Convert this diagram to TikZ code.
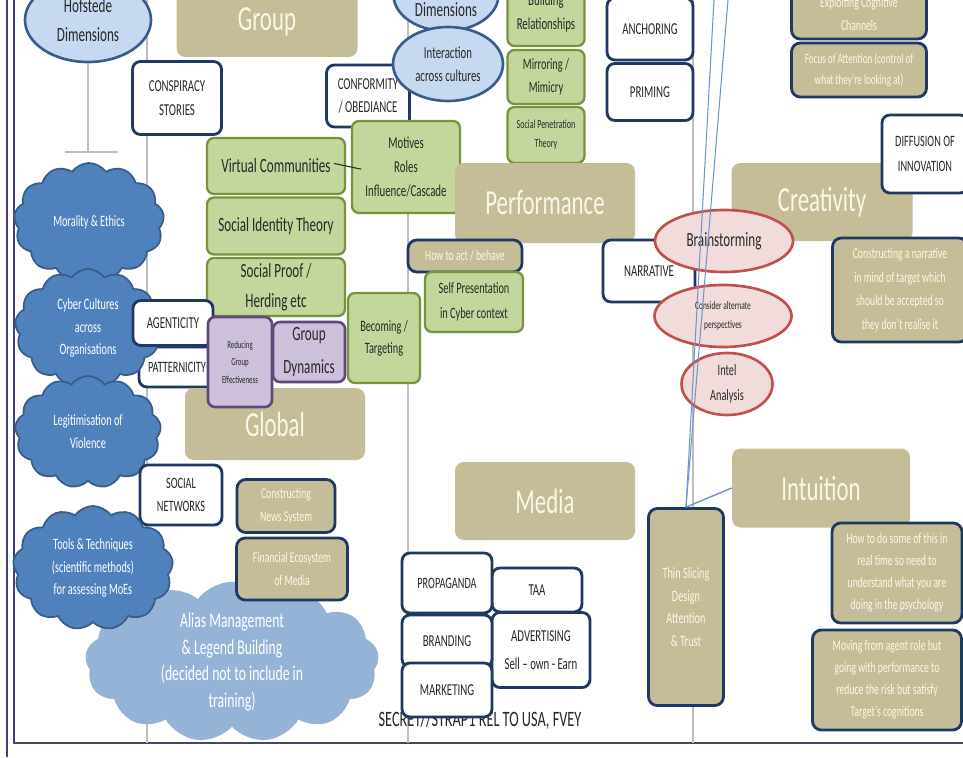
\documentclass[tikz,border=0pt]{standalone}
\usepackage{fontspec}
\setmainfont{Carlito}[FakeStretch=0.65]
\usetikzlibrary{shapes.geometric,shapes.symbols}

\definecolor{tan}{RGB}{196,189,151}
\definecolor{cream}{RGB}{250,247,232}
\definecolor{navy}{RGB}{31,56,100}
\definecolor{ink}{RGB}{40,40,40}
\definecolor{leaf}{RGB}{195,214,155}
\definecolor{leafline}{RGB}{119,147,60}
\definecolor{lilac}{RGB}{204,192,218}
\definecolor{lilacline}{RGB}{95,73,122}
\definecolor{sky}{RGB}{198,217,241}
\definecolor{skyline}{RGB}{56,93,138}
\definecolor{cloudblue}{RGB}{79,129,189}
\definecolor{cloudpale}{RGB}{149,179,215}
\definecolor{rose}{RGB}{242,220,219}
\definecolor{roseline}{RGB}{192,80,77}
\definecolor{sepgray}{RGB}{190,190,190}
\definecolor{framecol}{RGB}{70,65,120}
\definecolor{linkblue}{RGB}{110,150,200}

\begin{document}
\begin{tikzpicture}[x=0.02cm,y=-0.02cm,
  sz/.style 2 args={minimum width=#1*0.02cm,minimum height=#2*0.02cm},
  fs/.style 2 args={font=\fontsize{#1}{#2}\selectfont},
  heading/.style={fill=tan,text=cream,rounded corners=5pt,inner sep=0pt,fs={20}{24}},
  wbox/.style={draw=navy,fill=white,text=ink,line width=1.6pt,rounded corners=4.5pt,
    inner sep=0pt,align=center,fs={9.5}{13.5}},
  gbox/.style={draw=leafline,fill=leaf,text=ink,line width=1.3pt,rounded corners=4pt,
    inner sep=0pt,align=center,fs={11.5}{17}},
  pbox/.style={draw=lilacline,fill=lilac,text=ink,line width=1.5pt,rounded corners=4pt,
    inner sep=0pt,align=center},
  tbox/.style={draw=navy,fill=tan,text=cream,line width=1.6pt,rounded corners=5pt,
    inner sep=0pt,align=center,fs={8.5}{13}},
  bell/.style={ellipse,draw=skyline,fill=sky,text=ink,line width=1.5pt,inner sep=0pt,align=center},
  rell/.style={ellipse,draw=roseline,fill=rose,text=ink,line width=1.5pt,inner sep=0pt,align=center},
  bcloud/.style={cloud,cloud puffs=13,cloud puff arc=110,cloud ignores aspect,draw=skyline,
    fill=cloudblue,text=white,line width=1pt,inner sep=0pt,align=center,fs={9}{13}},
  colline/.style={draw=sepgray,line width=0.6pt}]
\useasboundingbox[fill=white] (0,0) rectangle (963,757);

% frame and columns
\draw[framecol,line width=1.1pt] (7,0) -- (7,757);
\draw[framecol,line width=1.1pt] (14,0) -- (14,743) -- (963,743);
\draw[colline] (147,0) -- (147,743);
\draw[colline] (408,0) -- (408,743);
\draw[colline] (693,0) -- (693,743);

% top left
\node[bell,sz={126}{84},fs={11.5}{17}] (hofstede) at (88,20) {Hofstede\\Dimensions};
\coordinate (tbar) at (88,152);
\draw[colline,line width=1pt] (hofstede) -- (tbar);
\draw[colline,line width=1pt] (tbar) ++(-23,0) -- ++(53,0);
\node[heading,sz={181}{70}] (group) at (267,22) {Group};
\node[wbox,sz={89}{73}] (conspiracy) at (177,98) {CONSPIRACY\\STORIES};
\node[wbox,sz={83}{62}] (conformity) at (368,96) {CONFORMITY\\/ OBEDIANCE};

% top middle
\node[bell,sz={105}{72},fs={11.5}{17}] (dimtop) at (446,-5) {\vphantom{X}\\Dimensions};
\node[bell,sz={110}{74},fs={9.5}{13}] (interact) at (448,64) {Interaction\\across cultures};
\node[gbox,sz={77}{66},fs={9.5}{14}] (building) at (546,13) {Building\\Relationships};
\node[gbox,sz={77}{54},fs={9}{13}] (mirror) at (546,77) {Mirroring /\\Mimicry};
\node[gbox,sz={77}{56},fs={7}{11}] (penetration) at (546,135) {Social Penetration\\Theory};
\node[wbox,sz={86}{62}] (anchoring) at (650,29) {ANCHORING};
\node[wbox,sz={86}{57}] (priming) at (650,92) {PRIMING};

% top right
\node[tbox,sz={135}{50}] (channels) at (859,14) {Exploiting Cognitive\\Channels};
\node[tbox,sz={135}{54},fs={8}{12}] (focus) at (859,70) {Focus of Attention (control of\\what they're looking at)};
\node[heading,sz={181}{78}] (creativity) at (822,202) {Creativity};
\node[wbox,sz={86}{78},fs={9}{14}] (diffusion) at (925,154) {DIFFUSION OF\\INNOVATION};

% group column
\node[gbox,sz={138}{56}] (virtual) at (276,166) {Virtual Communities};
\node[gbox,sz={108}{92},fs={9.5}{13.5}] (motives) at (406,167) {Motives\\Roles\\Influence/Cascade};
\draw[ink,line width=0.6pt,shorten <=-7pt,shorten >=-6pt] (virtual.east) -- (motives.west);
\node[gbox,sz={138}{57}] (identity) at (276,226) {Social Identity Theory};
\node[gbox,sz={138}{58}] (proof) at (276,287) {Social Proof /\\Herding etc};
\node[gbox,sz={72}{90},fs={9}{12.5}] (becoming) at (384,338) {Becoming /\\Targeting};

% left clouds
\node[wbox,sz={76}{40},fs={9}{12}] (patternicity) at (177,367) {PATTERNICITY};
\node[bcloud,sz={150}{118}] (morality) at (89,222) {Morality \& Ethics};
\node[bcloud,sz={146}{118}] (cyber) at (88,328) {Cyber Cultures\\across\\Organisations};
\node[bcloud,sz={146}{112}] (legit) at (88,432) {Legitimisation of\\Violence};
\node[wbox,sz={80}{45}] (agenticity) at (173,323) {AGENTICITY};
\node[heading,sz={180}{72}] (global) at (275,424) {Global};
\node[pbox,sz={72}{60},fs={11.5}{19}] (dynamics) at (309,352) {Group\\Dynamics};
\node[pbox,sz={64}{90},fs={6}{10}] (reducing) at (240,362) {Reducing\\Group\\Effectiveness};
\node[wbox,sz={82}{60},fs={9}{13.5}] (social) at (181,495) {SOCIAL\\NETWORKS};
\node[bcloud,sz={292}{148},fill=cloudpale,draw=cloudpale,fs={12}{15}] (alias) at (232,662)
  {Alias Management\\\& Legend Building\\(decided not to include in\\training)};
\node[bcloud,sz={160}{124}] (tools) at (93,568) {Tools \& Techniques\\(scientific methods)\\for assessing MoEs};
\node[tbox,sz={98}{53},fs={8.5}{13.5}] (news) at (286,506) {Constructing\\News System};
\node[tbox,sz={111}{62},fs={8.5}{13.5}] (financial) at (292,569) {Financial Ecosystem\\of Media};

% performance column
\node[heading,sz={180}{80}] (performance) at (545,203) {Performance};
\node[tbox,sz={114}{32},fs={8.5}{10}] (howact) at (465,256) {How to act / behave};
\node[gbox,sz={98}{60},fs={9}{14}] (selfpres) at (474,302) {Self Presentation\\in Cyber context};
\node[wbox,sz={92}{62}] (narrative) at (649,271) {NARRATIVE};
\node[heading,sz={180}{78}] (media) at (545,501) {Media};

% creativity column
\node[rell,sz={138}{62},fs={11.5}{14}] (brain) at (724,241) {Brainstorming};
\node[rell,sz={137}{62},fs={6.5}{11}] (consider) at (723,316) {Consider alternate\\perspectives};
\node[rell,sz={91}{62},fs={9}{14}] (intel) at (727,384) {Intel\\Analysis};
\node[tbox,sz={135}{104},fs={8.5}{13.5}] (construct) at (900,290)
  {Constructing a narrative\\in mind of target which\\should be accepted so\\they don't realise it};
\node[heading,sz={178}{79}] (intuition) at (821,488) {Intuition};
\node[tbox,sz={75}{197},fs={9}{13}] (thin) at (686,607) {Thin Slicing\\Design\\Attention\\\& Trust};
\node[tbox,sz={130}{100},fs={8.5}{12.5}] (howdo) at (897,573)
  {How to do some of this in\\real time so need to\\understand what you are\\doing in the psychology};
\node[tbox,sz={149}{100},fs={8.5}{12.5}] (moving) at (887,680)
  {Moving from agent role but\\going with performance to\\reduce the risk but satisfy\\Target's cognitions};
\draw[linkblue,line width=0.8pt] (intuition.west) -- (thin.north);
\coordinate (topa) at (728,0);
\coordinate (topb) at (714,0);
\draw[linkblue,line width=0.6pt] (thin.north) -- (topa);
\draw[linkblue,line width=0.6pt] (thin.north) -- (topb);

% media cluster
\node[wbox,sz={90}{44}] (taa) at (537,590) {TAA};
\node[wbox,sz={90}{60},fs={9}{13}] (propaganda) at (447,583) {PROPAGANDA};
\node[wbox,sz={98}{75},fs={9.5}{16}] (advertising) at (541,650) {ADVERTISING\\Sell – own - Earn};
\node[wbox,sz={90}{52}] (branding) at (447,641) {BRANDING};
\node[text=ink,fs={12.5}{14},inner sep=0pt] (secret) at (480,720) {SECRET//STRAP1 REL TO USA, FVEY};
\node[wbox,sz={90}{54}] (marketing) at (447,690) {MARKETING};
\end{tikzpicture}
\end{document}
